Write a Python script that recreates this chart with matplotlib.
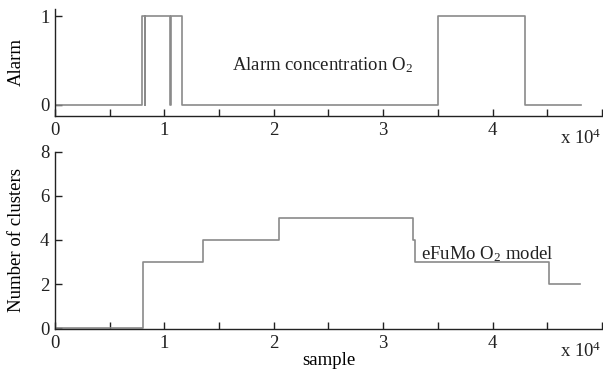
import numpy as np
import matplotlib
matplotlib.use("Agg")
import matplotlib.pyplot as plt
from matplotlib.ticker import FuncFormatter, MultipleLocator

# ---- data (sample index, step values) ----
alarm_x = [0, 7950, 8220, 8260, 10520, 10600, 11580, 35000, 43000, 48100]
alarm_y = [0, 1, 0, 1, 0, 1, 0, 1, 0, 0]

clusters_x = [0, 8000, 13500, 20500, 32700, 32900, 45200, 48000]
clusters_y = [0, 3, 4, 5, 4, 3, 2, 2]

alarm_yticks = [0, 1]
clusters_yticks = [0, 2, 4, 6, 8]

LINE = "#8a8a8a"
SPINE = "#222222"
FS = 13.5

plt.rcParams["font.family"] = ["Liberation Serif", "DejaVu Serif"]
plt.rcParams["mathtext.fontset"] = "custom"
plt.rcParams["mathtext.rm"] = "Liberation Serif"
plt.rcParams["mathtext.it"] = "Liberation Serif:italic"
plt.rcParams["text.color"] = SPINE


def style(ax, yticks, exp_y):
    for s in ("top", "right"):
        ax.spines[s].set_visible(False)
    for s in ("left", "bottom"):
        ax.spines[s].set_color(SPINE)
        ax.spines[s].set_linewidth(1.0)
    ax.set_xlim(0, 5)
    ax.xaxis.set_major_locator(MultipleLocator(0.5))
    ax.xaxis.set_major_formatter(
        FuncFormatter(lambda v, p: f"{v:.0f}" if abs(v - round(v)) < 1e-6 and v < 4.9 else ""))
    ax.set_yticks(yticks)
    ax.tick_params(direction="in", length=5, width=1.0, color=SPINE,
                   labelcolor=SPINE, labelsize=FS, pad=4)
    ax.text(1.0, exp_y, r"x 10$^4$", transform=ax.transAxes,
            ha="right", va="top", fontsize=FS)


fig = plt.figure(figsize=(6.03, 3.72), dpi=100)
ax1 = fig.add_axes([0.0912, 0.688, 0.907, 0.288])
ax2 = fig.add_axes([0.0912, 0.115, 0.907, 0.477])

x1 = np.array(alarm_x) / 1e4
ax1.step(x1, alarm_y, where="post", color=LINE, lw=1.2)
ax1.set_ylim(-0.125, 1.085)
style(ax1, alarm_yticks, -0.12)
ax1.set_ylabel("Alarm", fontsize=FS)
ax1.yaxis.set_label_coords(-0.055, 0.5)
ax1.text(1.62, 0.45, r"Alarm concentration O$_2$", fontsize=FS, va="center")

x2 = np.array(clusters_x) / 1e4
ax2.step(x2, clusters_y, where="post", color=LINE, lw=1.2)
ax2.set_ylim(-0.05, 8)
style(ax2, clusters_yticks, -0.07)
ax2.set_ylabel("Number of clusters", fontsize=FS)
ax2.yaxis.set_label_coords(-0.055, 0.5)
ax2.set_xlabel("sample", fontsize=FS, labelpad=0)
ax2.text(3.35, 3.35, r"eFuMo O$_2$ model", fontsize=FS, va="center")

fig.savefig("out.png", dpi=100)
